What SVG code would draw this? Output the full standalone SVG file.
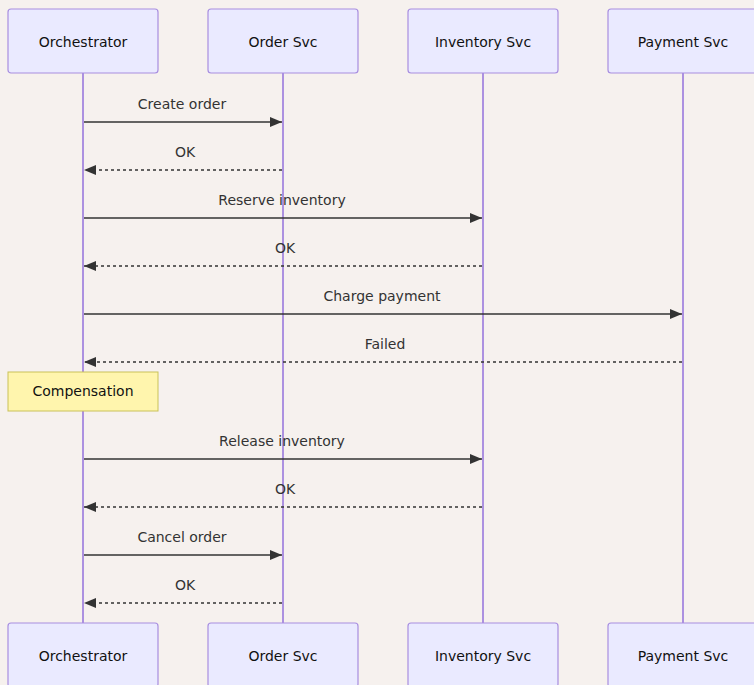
<svg xmlns="http://www.w3.org/2000/svg" width="754" height="685" viewBox="0 0 754 685">
  <style>
    .actor rect { fill: #eaeaff; stroke: #a88ee0; stroke-width: 1.2; }
    .actor text, .note text { font-family: "DejaVu Sans", Verdana, sans-serif; font-size: 14px; fill: #111; text-anchor: middle; dominant-baseline: central; }
    .lifeline { stroke: #9370db; stroke-width: 1.5; }
    .msg { stroke: #333; stroke-width: 1.5; fill: none; }
    .dashed { stroke-dasharray: 3 3; }
    .label { font-family: "DejaVu Sans", Verdana, sans-serif; font-size: 14px; fill: #333; text-anchor: middle; }
    .note rect { fill: #fff5ad; stroke: #c9c258; stroke-width: 1; }
  </style>
  <defs>
    <marker id="arrow" viewBox="0 0 12 10" refX="12" refY="5" markerWidth="12" markerHeight="10" markerUnits="userSpaceOnUse" orient="auto">
      <path d="M0,0 L12,5 L0,10 z" fill="#333"/>
    </marker>
  </defs>
  <rect width="754" height="685" fill="#f6f1ee"/>

  <!-- lifelines -->
  <g id="lifelines">
    <line class="lifeline" x1="83" y1="73" x2="83" y2="623"/>
    <line class="lifeline" x1="283" y1="73" x2="283" y2="623"/>
    <line class="lifeline" x1="483" y1="73" x2="483" y2="623"/>
    <line class="lifeline" x1="683" y1="73" x2="683" y2="623"/>
  </g>

  <!-- actors, top -->
  <g id="orchestrator-top" class="actor"><rect x="8" y="9" width="150" height="64" rx="3"/><text x="83" y="42">Orchestrator</text></g>
  <g id="order-top" class="actor"><rect x="208" y="9" width="150" height="64" rx="3"/><text x="283" y="42">Order Svc</text></g>
  <g id="inventory-top" class="actor"><rect x="408" y="9" width="150" height="64" rx="3"/><text x="483" y="42">Inventory Svc</text></g>
  <g id="payment-top" class="actor"><rect x="608" y="9" width="150" height="64" rx="3"/><text x="683" y="42">Payment Svc</text></g>

  <!-- actors, bottom -->
  <g id="orchestrator-bottom" class="actor"><rect x="8" y="623" width="150" height="64" rx="3"/><text x="83" y="656">Orchestrator</text></g>
  <g id="order-bottom" class="actor"><rect x="208" y="623" width="150" height="64" rx="3"/><text x="283" y="656">Order Svc</text></g>
  <g id="inventory-bottom" class="actor"><rect x="408" y="623" width="150" height="64" rx="3"/><text x="483" y="656">Inventory Svc</text></g>
  <g id="payment-bottom" class="actor"><rect x="608" y="623" width="150" height="64" rx="3"/><text x="683" y="656">Payment Svc</text></g>

  <!-- note -->
  <g id="note-compensation" class="note"><rect x="8" y="372" width="150" height="39"/><text x="83" y="391">Compensation</text></g>

  <!-- messages -->
  <g id="connectors">
    <line class="msg" x1="84" y1="122" x2="282" y2="122" marker-end="url(#arrow)"/>
    <text class="label" x="182" y="109">Create order</text>

    <line class="msg dashed" x1="282" y1="170" x2="84" y2="170" marker-end="url(#arrow)"/>
    <text class="label" x="185" y="157">OK</text>

    <line class="msg" x1="84" y1="218" x2="482" y2="218" marker-end="url(#arrow)"/>
    <text class="label" x="282" y="205">Reserve inventory</text>

    <line class="msg dashed" x1="482" y1="266" x2="84" y2="266" marker-end="url(#arrow)"/>
    <text class="label" x="285" y="253">OK</text>

    <line class="msg" x1="84" y1="314" x2="682" y2="314" marker-end="url(#arrow)"/>
    <text class="label" x="382" y="301">Charge payment</text>

    <line class="msg dashed" x1="682" y1="362" x2="84" y2="362" marker-end="url(#arrow)"/>
    <text class="label" x="385" y="349">Failed</text>

    <line class="msg" x1="84" y1="459" x2="482" y2="459" marker-end="url(#arrow)"/>
    <text class="label" x="282" y="446">Release inventory</text>

    <line class="msg dashed" x1="482" y1="507" x2="84" y2="507" marker-end="url(#arrow)"/>
    <text class="label" x="285" y="494">OK</text>

    <line class="msg" x1="84" y1="555" x2="282" y2="555" marker-end="url(#arrow)"/>
    <text class="label" x="182" y="542">Cancel order</text>

    <line class="msg dashed" x1="282" y1="603" x2="84" y2="603" marker-end="url(#arrow)"/>
    <text class="label" x="185" y="590">OK</text>
  </g>
</svg>
